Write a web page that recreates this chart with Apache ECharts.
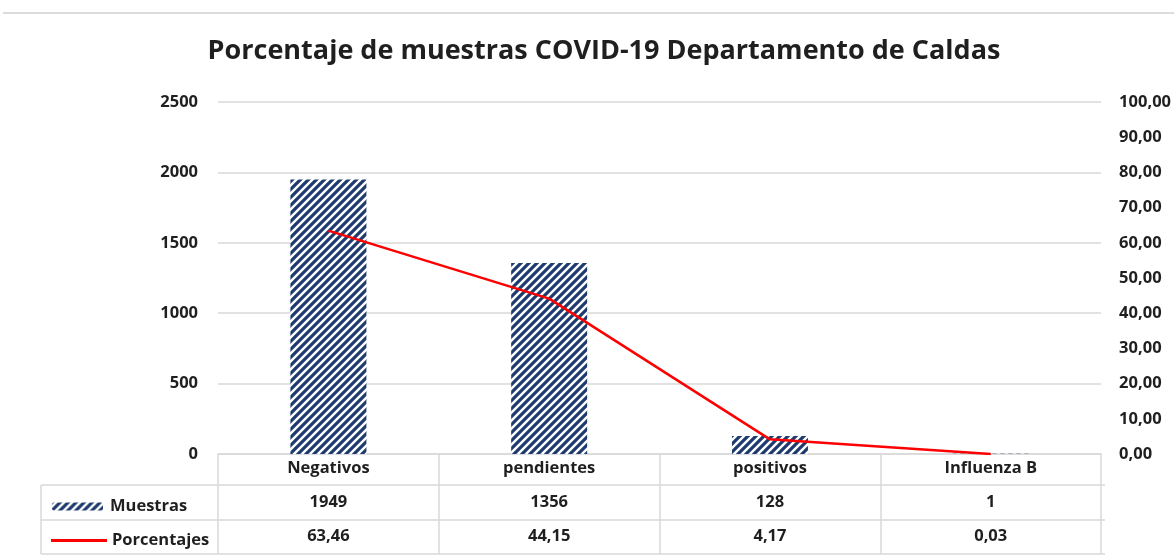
<!DOCTYPE html>
<html>
<head>
<meta charset="utf-8">
<script src="https://cdn.jsdelivr.net/npm/echarts@6/dist/echarts.min.js"></script>
<style>
html,body{margin:0;padding:0;background:#fff;}
#chart{width:1174px;height:560px;}
</style>
</head>
<body>
<div id="chart"></div>
<script>
const titleText = 'Porcentaje de muestras COVID-19 Departamento de Caldas';
const categories = ['Negativos', 'pendientes', 'positivos', 'Influenza B'];
const muestras = [1949, 1356, 128, 1];
const porcentajes = [63.46, 44.15, 4.17, 0.03];
const leftTicks = { min: 0, max: 2500, interval: 500 };
const rightTicks = { min: 0, max: 100, interval: 10 };

const FONT = '"Open Sans", Lato, sans-serif';
const TXT = '#1f1f1f';
const GRID_C = '#d9d9d9';
const NAVY = '#1f3a6e';
const LBL = { fontFamily: FONT, fontSize: 16.5, fontWeight: 700, color: TXT };

function fmtComma(v) { return v.toFixed(2).replace('.', ','); }

// hatch pattern
const tile = document.createElement('canvas');
tile.width = 8; tile.height = 8;
const tc = tile.getContext('2d');
tc.fillStyle = '#ffffff';
tc.fillRect(0, 0, 8, 8);
tc.strokeStyle = NAVY;
tc.lineWidth = 3.2;
tc.beginPath();
tc.moveTo(-2, 10); tc.lineTo(10, -2);
tc.moveTo(-6, 6); tc.lineTo(6, -6);
tc.moveTo(2, 14); tc.lineTo(14, 2);
tc.stroke();
const hatch = { image: tile, repeat: 'repeat' };

const chart = echarts.init(document.getElementById('chart'), null, { renderer: 'canvas' });

const gridL = 218, gridR = 1105, gridT = 102, gridB = 454;
const rowH = 34;
const tableLeft = 41;

const option = {
  animation: false,
  backgroundColor: '#ffffff',
  textStyle: { fontFamily: FONT },
  title: {
    text: titleText,
    left: 599, textAlign: 'center',
    top: 33,
    textStyle: { fontFamily: FONT, fontSize: 27, fontWeight: 700, color: TXT }
  },
  grid: { left: gridL, right: 1174 - gridR, top: gridT, bottom: 560 - gridB, containLabel: false },
  legend: [
    {
      data: ['Muestras'], left: 47, top: 493, itemWidth: 51, itemHeight: 8, itemGap: 0,
      textStyle: Object.assign({}, LBL, { padding: [0, 0, 0, 2] }),
      selectedMode: false
    },
    {
      data: [{ name: 'Porcentajes', icon: 'rect' }], left: 46, top: 527, itemWidth: 56, itemHeight: 3, itemGap: 0,
      textStyle: LBL,
      selectedMode: false
    }
  ],
  xAxis: [
    {
      type: 'category', data: categories, position: 'bottom',
      axisLine: { show: true, lineStyle: { color: GRID_C, width: 1.5 } },
      axisTick: { show: true, interval: 0, length: rowH * 3 - 2, lineStyle: { color: GRID_C, width: 1.5 } },
      axisLabel: Object.assign({ interval: 0, margin: 6 }, LBL)
    },
    {
      type: 'category', data: muestras.map(String), position: 'bottom', offset: rowH,
      axisLine: { show: false }, axisTick: { show: false },
      axisLabel: Object.assign({ interval: 0, margin: 6 }, LBL)
    },
    {
      type: 'category', data: porcentajes.map(fmtComma), position: 'bottom', offset: rowH * 2,
      axisLine: { show: false }, axisTick: { show: false },
      axisLabel: Object.assign({ interval: 0, margin: 6 }, LBL)
    }
  ],
  yAxis: [
    {
      type: 'value', min: leftTicks.min, max: leftTicks.max, interval: leftTicks.interval,
      axisLine: { show: false }, axisTick: { show: false },
      splitLine: { show: true, lineStyle: { color: GRID_C, width: 1.5 } },
      axisLabel: Object.assign({ margin: 20, formatter: function (v) { return String(v); } }, LBL)
    },
    {
      type: 'value', min: rightTicks.min, max: rightTicks.max, interval: rightTicks.interval,
      axisLine: { show: false }, axisTick: { show: false },
      splitLine: { show: false },
      axisLabel: Object.assign({ margin: 18, formatter: fmtComma }, LBL)
    }
  ],
  series: [
    {
      name: 'Muestras', type: 'bar', xAxisIndex: 0, yAxisIndex: 0,
      data: muestras, barWidth: 76,
      itemStyle: { color: hatch }
    },
    {
      name: 'Porcentajes', type: 'line', xAxisIndex: 0, yAxisIndex: 1,
      data: porcentajes, symbol: 'none', showSymbol: false,
      itemStyle: { color: '#ff0000' },
      lineStyle: { color: '#ff0000', width: 2.5 }
    }
  ],
  graphic: [
    { type: 'line', shape: { x1: 3, y1: 13, x2: 1174, y2: 13 }, style: { stroke: '#dcdcdc', lineWidth: 2 }, silent: true },
    { type: 'line', shape: { x1: tableLeft, y1: gridB + rowH - 3, x2: gridR, y2: gridB + rowH - 3 }, style: { stroke: GRID_C, lineWidth: 1.5 }, silent: true },
    { type: 'line', shape: { x1: tableLeft, y1: gridB + rowH * 2 - 2, x2: gridR, y2: gridB + rowH * 2 - 2 }, style: { stroke: GRID_C, lineWidth: 1.5 }, silent: true },
    { type: 'line', shape: { x1: tableLeft, y1: gridB + rowH * 3 - 2, x2: gridR, y2: gridB + rowH * 3 - 2 }, style: { stroke: GRID_C, lineWidth: 1.5 }, silent: true },
    { type: 'line', shape: { x1: tableLeft, y1: gridB + rowH - 3, x2: tableLeft, y2: gridB + rowH * 3 - 2 }, style: { stroke: GRID_C, lineWidth: 1.5 }, silent: true }
  ]
};
chart.setOption(option);
</script>
</body>
</html>
